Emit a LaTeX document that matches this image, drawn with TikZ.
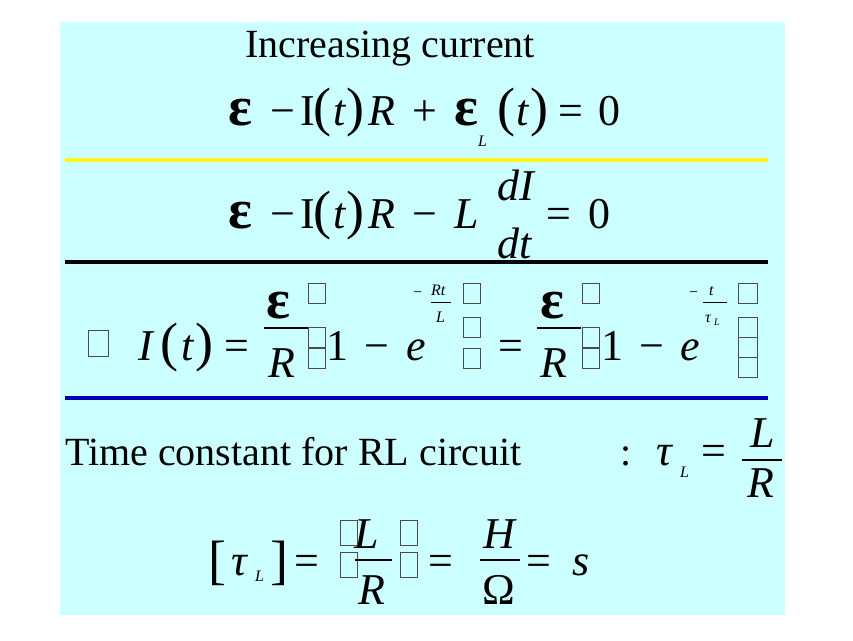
\documentclass[tikz,border=0pt]{standalone}
\usepackage{fontspec}
\setmainfont{Liberation Serif}
\definecolor{bgc}{RGB}{204,255,255}
\begin{document}
\begin{tikzpicture}[x=1pt,y=-1pt,
  big/.style={anchor=base west,inner sep=0pt,font=\fontsize{44}{44}\selectfont},
  eps/.style={anchor=base west,inner sep=0pt,font=\fontsize{56}{56}\selectfont\bfseries},
  bigi/.style={big,font=\fontsize{44}{44}\selectfont\itshape},
  par/.style={anchor=base west,inner sep=0pt,font=\fontsize{54}{54}\selectfont},
  sm/.style={anchor=base west,inner sep=0pt,font=\fontsize{16}{16}\selectfont\itshape},
  txt/.style={anchor=base west,inner sep=0pt,font=\fontsize{40}{40}\selectfont},
  gbox/.style={draw=black!70,line width=0.6pt},
  bar/.style={line width=1.6pt}]
\useasboundingbox (0,0) rectangle (853,640);
\fill[bgc] (60,22) rectangle (785,615);
\draw[yellow!90!white,line width=4pt] (65,160) -- (768,160);
\draw[black,line width=4pt] (65,262) -- (768,262);
\draw[blue!70!black,line width=4pt] (65,398) -- (768,398);
\node[txt] (title) at (245,57) {Increasing current};
% line 1
\node[eps] (a1) at (228,125) {ε};
\node[big] (a2) at (270,125) {−};
\node[big] (a3) at (300,125) {I};
\node[par] (a4) at (313,125) {(};
\node[bigi] (a5) at (333,125) {t};
\node[par] (a6) at (346,125) {)};
\node[bigi] (a7) at (368,125) {R};
\node[big] (a8) at (412,125) {+};
\node[eps] (a9) at (454,125) {ε};
\node[sm] (a10) at (478,146) {L};
\node[par] (a11) at (497,125) {(};
\node[bigi] (a12) at (516,125) {t};
\node[par] (a13) at (530,125) {)};
\node[big] (a14) at (558,125) {=};
\node[big] (a15) at (598,125) {0};
% line 2
\node[eps] (b1) at (228,228) {ε};
\node[big] (b2) at (270,228) {−};
\node[big] (b3) at (300,228) {I};
\node[par] (b4) at (313,228) {(};
\node[bigi] (b5) at (333,228) {t};
\node[par] (b6) at (346,228) {)};
\node[bigi] (b7) at (368,228) {R};
\node[big] (b8) at (412,228) {−};
\node[bigi] (b9) at (454,228) {L};
\node[bigi] (b10) at (497,200) {dI};
\node[bigi] (b11) at (497,258) {dt};
\node[big] (b12) at (546,228) {=};
\node[big] (b13) at (588,228) {0};
% line 3
\draw[gbox] (88,330) rectangle (108,356);
\node[bigi] (c1) at (138,360) {I};
\node[par] (c2) at (160,360) {(};
\node[bigi] (c3) at (181,360) {t};
\node[par] (c4) at (195,360) {)};
\node[big] (c5) at (224,360) {=};
\node[eps] (c6) at (266,318) {ε};
\draw[bar] (264,328) -- (308,328);
\node[bigi] (c7) at (268,377) {R};
\draw[gbox] (308,283) rectangle (325,303);
\draw[gbox] (308,327) rectangle (325,347);
\draw[gbox] (308,348) rectangle (325,368);
\node[big] (c8) at (326,360) {1};
\node[big] (c9) at (364,360) {−};
\node[bigi] (c10) at (406,360) {e};
\node[sm] (c11) at (412,297) {−};
\node[sm] (c12) at (431,295) {Rt};
\draw[line width=0.6pt] (431,302) -- (451,302);
\node[sm] (c13) at (436,322) {L};
\draw[gbox] (463,283) rectangle (480,303);
\draw[gbox] (463,317) rectangle (480,337);
\draw[gbox] (463,348) rectangle (480,368);
\node[big] (c14) at (498,360) {=};
\node[eps] (c15) at (540,318) {ε};
\draw[bar] (537,328) -- (581,328);
\node[bigi] (c16) at (540,377) {R};
\draw[gbox] (582,283) rectangle (599,303);
\draw[gbox] (582,327) rectangle (599,347);
\draw[gbox] (582,348) rectangle (599,368);
\node[big] (c17) at (601,360) {1};
\node[big] (c18) at (639,360) {−};
\node[bigi] (c19) at (680,360) {e};
\node[sm] (c20) at (688,297) {−};
\node[sm] (c21) at (709,295) {t};
\draw[line width=0.6pt] (703,302) -- (727,302);
\node[sm] (c22) at (705,322) {τ};
\node[sm,font=\fontsize{10}{10}\selectfont\itshape] (c23) at (714,325) {L};
\draw[gbox] (738,283) rectangle (757,303);
\draw[gbox] (738,317) rectangle (757,337);
\draw[gbox] (738,337) rectangle (757,357);
\draw[gbox] (738,357) rectangle (757,377);
% line 4
\node[txt] (d1) at (65,465) {Time constant for RL circuit};
\node[txt] (d2) at (620,465) {:};
\node[bigi] (d3) at (656,465) {τ};
\node[sm] (d4) at (680,477) {L};
\node[big] (d5) at (701,465) {=};
\node[bigi] (d6) at (750,447) {L};
\draw[bar] (742,460) -- (782,460);
\node[bigi] (d7) at (747,497) {R};
% line 5
\node[par] (e1) at (208,578) {[};
\node[bigi] (e2) at (231,575) {τ};
\node[sm] (e3) at (255,581) {L};
\node[par] (e4) at (270,578) {]};
\node[big] (e5) at (294,575) {=};
\draw[gbox] (340,520) rectangle (357,545);
\draw[gbox] (340,552) rectangle (357,577);
\node[bigi] (e6) at (354,548) {L};
\draw[bar] (355,560) -- (392,560);
\node[bigi] (e7) at (358,604) {R};
\draw[gbox] (400,520) rectangle (417,545);
\draw[gbox] (400,552) rectangle (417,577);
\node[big] (e8) at (428,575) {=};
\node[bigi] (e9) at (483,548) {H};
\draw[bar] (480,560) -- (520,560);
\node[big] (e10) at (482,604) {Ω};
\node[big] (e11) at (526,575) {=};
\node[bigi] (e12) at (572,575) {s};
\end{tikzpicture}
\end{document}
